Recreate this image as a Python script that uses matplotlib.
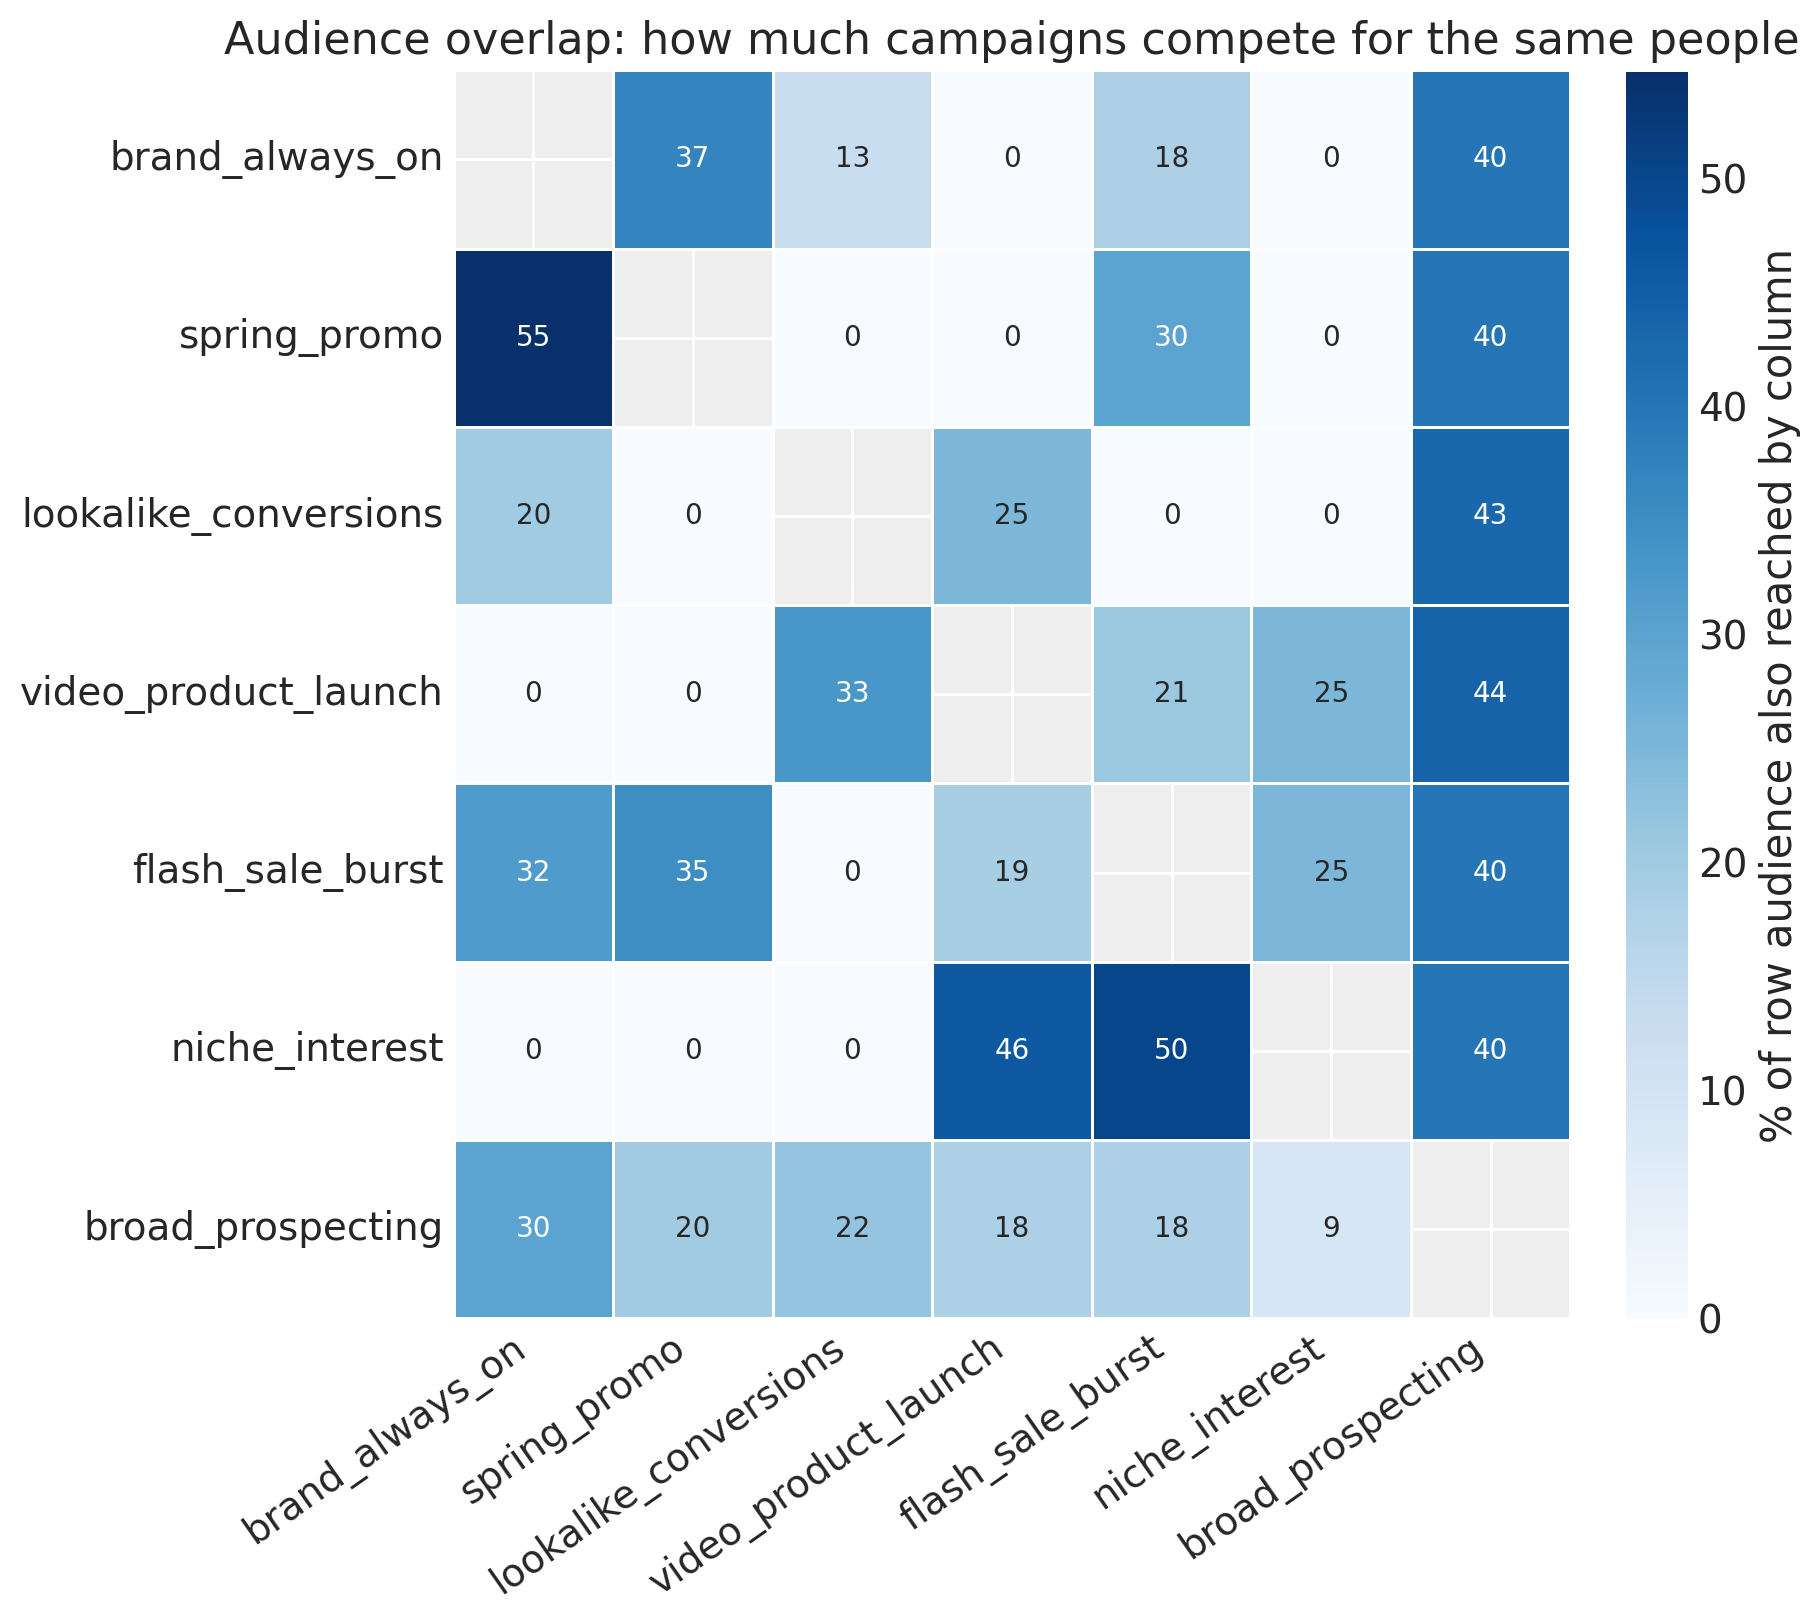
import numpy as np
import pandas as pd
import matplotlib
matplotlib.use("Agg")
import matplotlib.pyplot as plt
import seaborn as sns

campaigns = ["brand_always_on", "spring_promo", "lookalike_conversions",
             "video_product_launch", "flash_sale_burst", "niche_interest",
             "broad_prospecting"]

brand_always_on      = [np.nan, 37, 13, 0, 18, 0, 40]
spring_promo         = [54.7, np.nan, 0, 0, 30, 0, 40]
lookalike_conversions = [20, 0, np.nan, 25, 0, 0, 43]
video_product_launch = [0, 0, 33, np.nan, 21, 25, 44]
flash_sale_burst     = [32, 35, 0, 19, np.nan, 25, 40]
niche_interest       = [0, 0, 0, 46, 50, np.nan, 40]
broad_prospecting    = [30, 20, 22, 18, 18, 9, np.nan]

rows = [brand_always_on, spring_promo, lookalike_conversions,
        video_product_launch, flash_sale_burst, niche_interest,
        broad_prospecting]
df = pd.DataFrame(rows, index=campaigns, columns=campaigns)

sns.set_style("white")
plt.rcParams['font.family'] = ['DejaVu Sans']
plt.rcParams['text.color'] = '#262626'
plt.rcParams['xtick.color'] = '#262626'
plt.rcParams['ytick.color'] = '#262626'
plt.rcParams['axes.labelcolor'] = '#262626'

fig = plt.figure(figsize=(9.1, 8.115), dpi=200)
ax = fig.add_axes([0.2492, 0.1877, 0.6137, 0.769])
cax = fig.add_axes([0.8934, 0.1877, 0.0341, 0.768])

ax.set_facecolor('#eeeeee')
ax.set_axisbelow(True)

sns.heatmap(df, ax=ax, cbar_ax=cax, cmap="Blues", annot=True, fmt=".0f",
            linewidths=1, linecolor="white", vmin=0,
            annot_kws={"fontsize": 10},
            cbar_kws={"label": "% of row audience also reached by column"})

ax.grid(True, color='white', linewidth=1)
for s in ax.spines.values():
    s.set_visible(False)
ax.tick_params(axis='both', length=0, labelsize=14)
plt.setp(ax.get_xticklabels(), rotation=35, ha='right')
plt.setp(ax.get_yticklabels(), rotation=0)
ax.set_xlabel("")
ax.set_ylabel("")
ax.set_title("Audience overlap: how much campaigns compete for the same people",
             fontsize=16)

cb = ax.collections[0].colorbar
cb.outline.set_visible(False)
cb.ax.tick_params(labelsize=14, length=0)
cb.set_label("% of row audience also reached by column", fontsize=15)

fig.savefig("out.png", dpi=200)
